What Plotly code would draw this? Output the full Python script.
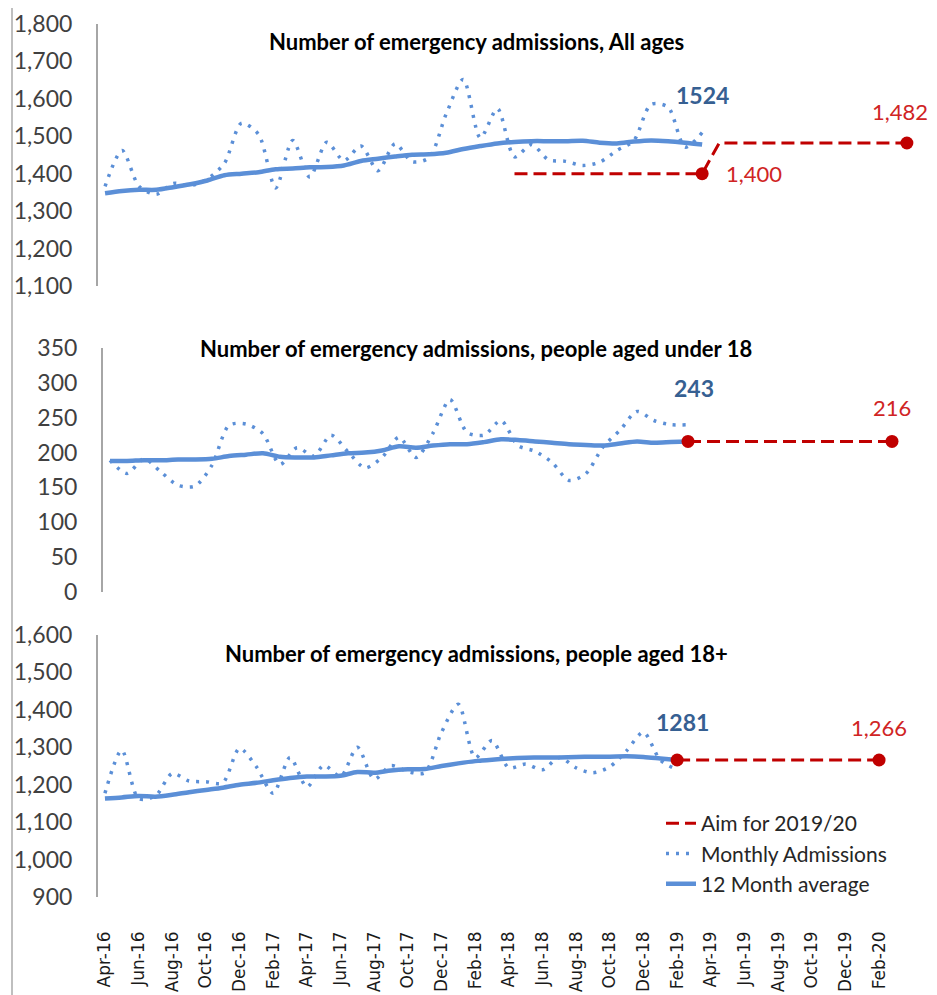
import pandas as pd
import plotly.graph_objects as go

# ---------------- data ----------------
months_all = list(pd.date_range("2016-04-01", "2020-03-01", freq="MS").strftime("%b-%y"))  # Apr-16 .. Mar-20
months_top = months_all            # 48 categories
months_low = months_all[:47]       # Apr-16 .. Feb-20

# All ages (Apr-16 .. Mar-19)
all_monthly = [1366, 1462, 1366, 1345, 1374, 1368, 1386, 1428, 1535, 1505, 1362, 1489,
               1391, 1484, 1435, 1474, 1408, 1480, 1432, 1443, 1560, 1652, 1496, 1574,
               1445, 1478, 1437, 1433, 1422, 1431, 1462, 1489, 1585, 1578, 1471, 1510]
all_avg = [1348, 1354, 1357, 1357, 1364, 1372, 1382, 1396, 1400, 1404, 1412, 1414,
           1417, 1418, 1422, 1434, 1440, 1446, 1451, 1452, 1456, 1466, 1474, 1481,
           1485, 1487, 1487, 1487, 1488, 1483, 1481, 1486, 1489, 1487, 1483, 1478]
all_aim_1819 = 1400   # Apr-18 .. Mar-19
all_aim_1920 = 1482   # Apr-19 .. Mar-20

# Under 18 (Apr-16 .. Feb-19)
u18_monthly = [189, 170, 191, 172, 153, 152, 182, 239, 241, 227, 183, 207,
               195, 225, 201, 178, 193, 222, 193, 228, 276, 229, 225, 246,
               210, 202, 186, 160, 170, 208, 232, 259, 246, 240, 240]
u18_avg = [188, 188, 189, 189, 190, 190, 191, 195, 197, 199, 194, 193,
           193, 196, 199, 200, 203, 209, 207, 210, 212, 212, 215, 219,
           218, 216, 214, 212, 211, 210, 213, 216, 214, 215, 216]
u18_aim = 216

# 18+ (Apr-16 .. Feb-19)
o18_monthly = [1177, 1292, 1163, 1170, 1230, 1210, 1208, 1205, 1297, 1248, 1177, 1273,
               1194, 1252, 1222, 1300, 1215, 1251, 1235, 1232, 1340, 1415, 1272, 1318,
               1245, 1255, 1240, 1273, 1245, 1232, 1248, 1291, 1340, 1266, 1240]
o18_avg = [1163, 1166, 1170, 1168, 1173, 1180, 1186, 1192, 1200, 1205, 1212, 1218,
           1222, 1222, 1224, 1234, 1232, 1238, 1241, 1242, 1250, 1257, 1263, 1267,
           1270, 1272, 1273, 1273, 1274, 1275, 1275, 1276, 1274, 1270, 1266]
o18_aim = 1266

latest_labels = ["1524", "243", "1281"]
titles = ["Number of emergency admissions, All ages",
          "Number of emergency admissions, people aged under 18",
          "Number of emergency admissions, people aged 18+"]
legend_names = ["Aim for 2019/20", "Monthly Admissions", "12 Month average"]

# ---------------- styles ----------------
BLUE = "#5B8FD7"
BLUE_TXT = "#366092"
RED = "#C00000"
RED_TXT = "#D02424"
FONT = "Lato"
OFF = 8                      # page body margin offset
W, H = 937 - OFF, 995 - OFF

fig = go.Figure()

def add_panel(ax, xcats, monthly, avg, aim_x, aim_y, dot_x, dot_y, show_legend):
    xa = "x" if ax == 1 else f"x{ax}"
    ya = "y" if ax == 1 else f"y{ax}"
    fig.add_trace(go.Scatter(x=aim_x, y=aim_y, mode="lines", name=legend_names[0],
                             line=dict(color=RED, width=3, dash="13px,6px"),
                             xaxis=xa, yaxis=ya, showlegend=show_legend, legendrank=1,
                             hoverinfo="skip"))
    fig.add_trace(go.Scatter(x=xcats[:len(monthly)], y=monthly, mode="lines", name=legend_names[1],
                             line=dict(color=BLUE, width=3.5, dash="3px,7px", shape="spline", smoothing=0.8),
                             xaxis=xa, yaxis=ya, showlegend=show_legend, legendrank=2))
    fig.add_trace(go.Scatter(x=xcats[:len(avg)], y=avg, mode="lines", name=legend_names[2],
                             line=dict(color=BLUE, width=4.5, shape="spline", smoothing=0.8),
                             xaxis=xa, yaxis=ya, showlegend=show_legend, legendrank=3))
    fig.add_trace(go.Scatter(x=dot_x, y=dot_y, mode="markers",
                             marker=dict(color=RED, size=13), cliponaxis=False,
                             xaxis=xa, yaxis=ya, showlegend=False))

# Top panel: aim 1400 Apr-18..Mar-19, then 1482 Apr-19..Mar-20
top_aim_x = months_top[24:36] + months_top[36:48]
top_aim_y = [all_aim_1819] * 12 + [all_aim_1920] * 12
add_panel(1, months_top, all_monthly, all_avg, top_aim_x, top_aim_y,
          [months_top[35], months_top[47]], [all_aim_1819, all_aim_1920], False)

# Middle panel
low_aim_x = months_low[34:47]
add_panel(2, months_low, u18_monthly, u18_avg, low_aim_x, [u18_aim] * len(low_aim_x),
          [months_low[34], months_low[46]], [u18_aim, u18_aim], False)

# Bottom panel
add_panel(3, months_low, o18_monthly, o18_avg, low_aim_x, [o18_aim] * len(low_aim_x),
          [months_low[34], months_low[46]], [o18_aim, o18_aim], True)

# ---------------- axes ----------------
def px_x(p): return (p - OFF) / W
def px_y(p): return 1 - (p - OFF) / H

tickfont = dict(family=FONT, size=23, color="#404040")
yaxis_common = dict(showgrid=False, zeroline=False, showline=True, linecolor="#A6A6A6",
                    linewidth=1.5, ticks="", tickfont=tickfont, ticklabelstandoff=19,
                    tickformat=",d", automargin=False, fixedrange=True)
xaxis_common = dict(type="category", showgrid=False, zeroline=False, showline=False,
                    ticks="", automargin=False, fixedrange=True)

fig.update_layout(
    xaxis=dict(**xaxis_common, domain=[px_x(97.7), px_x(913.7)], range=[-0.43, 47.4],
               categoryorder="array", categoryarray=months_top, showticklabels=False, anchor="y"),
    yaxis=dict(**yaxis_common, domain=[px_y(286), px_y(24)], range=[1100, 1800], dtick=100, anchor="x"),
    xaxis2=dict(**xaxis_common, domain=[px_x(102.7), px_x(898.8)], range=[-0.43, 46.4],
                categoryorder="array", categoryarray=months_low, showticklabels=False, anchor="y2"),
    yaxis2=dict(**yaxis_common, domain=[px_y(592), px_y(348)], range=[0, 350], dtick=50, anchor="x2"),
    xaxis3=dict(**xaxis_common, domain=[px_x(97.7), px_x(885.8)], range=[-0.43, 46.4],
                categoryorder="array", categoryarray=months_low, showticklabels=True,
                tickmode="array", tickvals=months_low[::2], ticktext=months_low[::2],
                tickangle=-90, ticklabelstandoff=30,
                tickfont=dict(family="DejaVu Sans", size=17, color="#1a1a1a"), anchor="y3"),
    yaxis3=dict(**yaxis_common, domain=[px_y(897), px_y(635)], range=[900, 1600], dtick=100, anchor="x3"),
)

# ---------------- annotations ----------------
ann = []
for t, cy in zip(titles, [42, 348, 653]):
    ann.append(dict(text=f"<b>{t}</b>", x=px_x(476), y=px_y(cy), xref="paper", yref="paper",
                    showarrow=False, xanchor="center", yanchor="middle",
                    font=dict(family=FONT, size=22, color="#000000")))

lab_font_b = dict(family=FONT, size=23, color=BLUE_TXT)
lab_font_r = dict(family=FONT, size=22, color=RED_TXT)
# top
ann.append(dict(text=f"<b>{latest_labels[0]}</b>", x=months_top[35], y=all_monthly[35], xref="x", yref="y",
                showarrow=False, xshift=0, yshift=38, font=lab_font_b))
ann.append(dict(text=f"{all_aim_1920:,}", x=months_top[47], y=all_aim_1920, xref="x", yref="y",
                showarrow=False, xshift=-7, yshift=32, font=lab_font_r))
ann.append(dict(text=f"{all_aim_1819:,}", x=months_top[35], y=all_aim_1819, xref="x", yref="y",
                showarrow=False, xshift=52, font=lab_font_r))
# middle
ann.append(dict(text=f"<b>{latest_labels[1]}</b>", x=months_low[34], y=u18_monthly[34], xref="x2", yref="y2",
                showarrow=False, xshift=6, yshift=37, font=lab_font_b))
ann.append(dict(text=f"{u18_aim:,}", x=months_low[46], y=u18_aim, xref="x2", yref="y2",
                showarrow=False, yshift=34, font=lab_font_r))
# bottom
ann.append(dict(text=f"<b>{latest_labels[2]}</b>", x=months_low[34], y=o18_monthly[34], xref="x3", yref="y3",
                showarrow=False, xshift=5, yshift=48, font=lab_font_b))
ann.append(dict(text=f"{o18_aim:,}", x=months_low[46], y=o18_aim, xref="x3", yref="y3",
                showarrow=False, xshift=0, yshift=33, font=lab_font_r))

fig.update_layout(
    annotations=ann,
    width=W, height=H,
    margin=dict(l=0, r=0, t=0, b=0),
    paper_bgcolor="white", plot_bgcolor="white",
    showlegend=True,
    legend=dict(x=px_x(661), y=px_y(803), xanchor="left", yanchor="top",
                font=dict(family=FONT, size=21, color="#262626"),
                bgcolor="rgba(0,0,0,0)", traceorder="normal", tracegroupgap=0),
    shapes=[dict(type="line", xref="paper", yref="paper", x0=px_x(12), x1=px_x(12), y0=0, y1=1,
                 line=dict(color="#BFBFBF", width=2), layer="below")],
    hovermode=False,
)

fig.write_html("out.html")
